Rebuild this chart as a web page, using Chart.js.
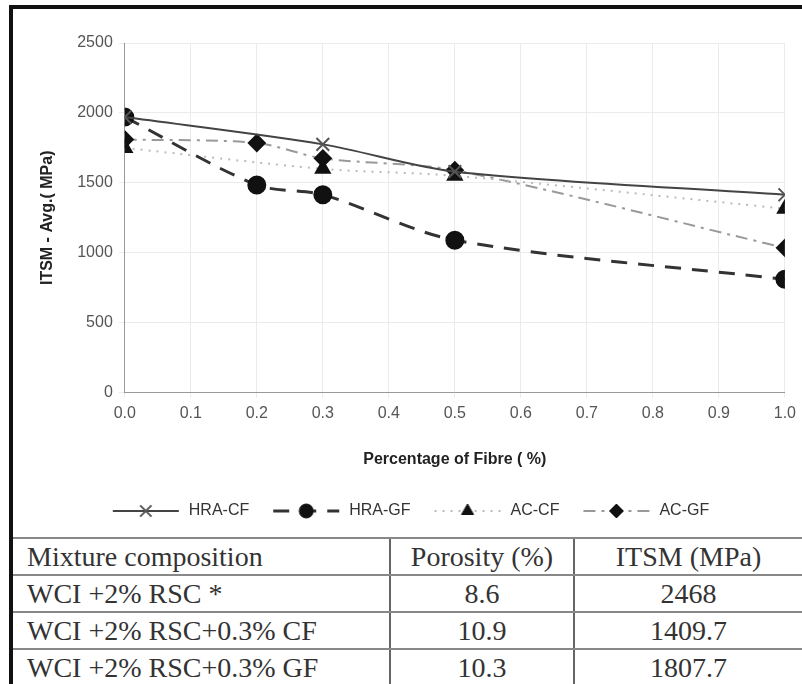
<!DOCTYPE html>
<html>
<head>
<meta charset="utf-8">
<script src="https://cdn.jsdelivr.net/npm/chart.js@4.4.1/dist/chart.umd.min.js"></script>
<style>
  html, body { margin: 0; padding: 0; background: #fff; }
  body { width: 802px; height: 684px; position: relative; overflow: hidden; }
  #frame { position: absolute; left: 9px; top: 5px; right: 0; bottom: 0;
           border-top: 4px solid #111; border-left: 4px solid #111; }
  #wrap { position: absolute; left: 0; top: 0; width: 802px; height: 532px; }
  table { position: absolute; left: 13px; top: 537px; width: 789px; border-collapse: collapse;
          font-family: "Liberation Serif", "Times New Roman", serif; font-size: 28px; color: #333; }
  td { border-top: 2px solid #888; border-bottom: 2px solid #888; height: 35px; padding: 0; line-height: 34px; }
  td + td { border-left: 2px solid #666; text-align: center; }
  td:first-child { padding-left: 14px; width: 362px; }
  td:nth-child(2) { width: 182px; }
</style>
</head>
<body>
<div id="frame"></div>
<div id="wrap"><canvas id="itsmChart"></canvas></div>
<table id="mix"></table>
<script>
// fibre content (%) and ITSM (MPa) for each mix
const xCF = [0.0, 0.3, 0.5, 1.0];
const xGF = [0.0, 0.2, 0.3, 0.5, 1.0];
const hraCF = [1970, 1775, 1580, 1415];
const hraGF = [1970, 1485, 1415, 1090, 810];
const acCF = [1750, 1600, 1550, 1315];
const acGF = [1810, 1785, 1675, 1590, 1035];
const xTicks = [0, 0.1, 0.2, 0.3, 0.4, 0.5, 0.6, 0.7, 0.8, 0.9, 1.0];
const yTicks = [0, 500, 1000, 1500, 2000, 2500];

// table under the chart
const mixNames = ['Mixture composition', 'WCI +2% RSC *', 'WCI +2% RSC+0.3% CF', 'WCI +2% RSC+0.3% GF'];
const porosity = ['Porosity (%)', '8.6', '10.9', '10.3'];
const itsm = ['ITSM (MPa)', '2468', '1409.7', '1807.7'];

const tbl = document.getElementById('mix');
mixNames.forEach((name, i) => {
    const tr = document.createElement('tr');
    [name, porosity[i], itsm[i]].forEach(txt => {
        const td = document.createElement('td');
        td.textContent = txt;
        tr.appendChild(td);
    });
    tbl.appendChild(tr);
});

const pts = (xs, ys) => xs.map((x, i) => ({ x: x, y: ys[i] }));

const datasets = [
    { label: 'HRA-CF', data: pts(xCF, hraCF), borderColor: '#444', borderWidth: 2, borderDash: [],
      pointStyle: 'crossRot', pointRadius: 9, pointBorderWidth: 2, pointBorderColor: '#555', pointBackgroundColor: '#555' },
    { label: 'HRA-GF', data: pts(xGF, hraGF), borderColor: '#333', borderWidth: 3, borderDash: [16, 11],
      pointStyle: 'circle', pointRadius: 8, pointBorderColor: '#111', pointBackgroundColor: '#111' },
    { label: 'AC-CF', data: pts(xCF, acCF), borderColor: '#bbb', borderWidth: 2, borderDash: [2, 6],
      pointStyle: 'triangle', pointRadius: 8, pointBorderColor: '#111', pointBackgroundColor: '#111' },
    { label: 'AC-GF', data: pts(xGF, acGF), borderColor: '#999', borderWidth: 2, borderDash: [12, 6, 3, 6],
      pointStyle: 'rectRot', pointRadius: 8, pointBorderColor: '#111', pointBackgroundColor: '#111' }
];

// legend icon: a line piece with the marker in the middle
function legendIcon(ds) {
    const c = document.createElement('canvas');
    c.width = 70; c.height = 20;
    const g = c.getContext('2d');
    g.strokeStyle = ds.borderColor;
    g.lineWidth = ds.borderWidth;
    g.setLineDash(ds.borderDash);
    g.beginPath(); g.moveTo(2, 10); g.lineTo(68, 10); g.stroke();
    g.setLineDash([]);
    g.fillStyle = ds.pointBackgroundColor;
    g.strokeStyle = ds.pointBorderColor;
    g.lineWidth = ds.pointBorderWidth || 1;
    Chart.helpers.drawPoint(g, { pointStyle: ds.pointStyle, radius: ds.pointRadius - 1, rotation: 0,
        borderWidth: g.lineWidth }, 35, 10);
    return c;
}

const ctx = document.getElementById('itsmChart').getContext('2d');
new Chart(ctx, {
    type: 'line',
    data: { datasets: datasets.map(d => Object.assign({ fill: false, tension: 0.3, backgroundColor: d.pointBackgroundColor }, d)) },
    options: {
        responsive: true,
        maintainAspectRatio: false,
        animation: false,
        layout: { padding: { left: 34, right: 16, top: 43, bottom: 3 } },
        scales: {
            x: {
                type: 'linear', min: 0, max: 1,
                afterBuildTicks: axis => { axis.ticks = xTicks.map(v => ({ value: v })); },
                ticks: { callback: v => v.toFixed(1), color: '#555', font: { family: 'Liberation Sans', size: 16 }, padding: 6 },
                grid: { color: '#ebebeb', tickLength: 5 },
                border: { color: '#999' },
                title: { display: true, text: 'Percentage of Fibre ( %)', color: '#222',
                         font: { family: 'Liberation Sans', size: 16, weight: 'bold' }, padding: { top: 21, bottom: 12 } }
            },
            y: {
                min: 0, max: 2500,
                afterBuildTicks: axis => { axis.ticks = yTicks.map(v => ({ value: v })); },
                ticks: { callback: v => String(v), color: '#555', font: { family: 'Liberation Sans', size: 16 }, padding: 6 },
                grid: { color: '#ebebeb', tickLength: 6 },
                border: { color: '#999' },
                title: { display: true, text: 'ITSM - Avg.( MPa)', color: '#222',
                         font: { family: 'Liberation Sans', size: 16, weight: 'bold' }, padding: { bottom: 14 } }
            }
        },
        plugins: {
            legend: {
                position: 'bottom',
                labels: {
                    usePointStyle: true,
                    pointStyleWidth: 70,
                    padding: 22,
                    color: '#333',
                    font: { family: 'Liberation Sans', size: 16 },
                    generateLabels: chart => chart.data.datasets.map((ds, i) => ({
                        text: ds.label, datasetIndex: i, hidden: false, fontColor: '#333',
                        pointStyle: legendIcon(ds), lineWidth: 0, strokeStyle: 'transparent', fillStyle: 'transparent'
                    }))
                }
            },
            tooltip: { enabled: false }
        }
    }
});
</script>
</body>
</html>
